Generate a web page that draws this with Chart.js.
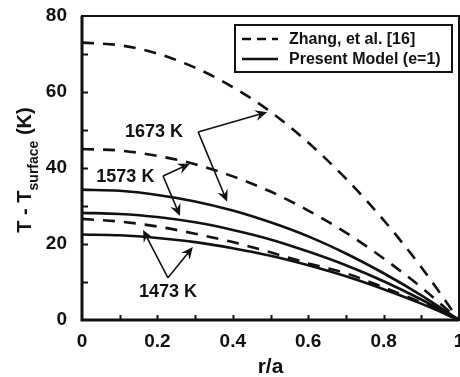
<!DOCTYPE html>
<html>
<head>
<meta charset="utf-8">
<script src="https://cdn.jsdelivr.net/npm/chart.js@4.4.0/dist/chart.umd.min.js"></script>
<style>
  html, body { margin: 0; padding: 0; background: #fff; }
  #wrap { width: 460px; height: 377px; }
</style>
</head>
<body>
<div id="wrap"><canvas id="chart"></canvas></div>
<script>
// r/a positions
const rValues = [0, 0.1, 0.2, 0.3, 0.4, 0.5, 0.6, 0.7, 0.8, 0.9, 1.0];

// Zhang, et al. [16] (dashed)
const zhang1673 = [73.0, 72.3, 70.1, 66.4, 61.3, 54.8, 46.7, 37.2, 26.3, 13.9, 0];
const zhang1573 = [45.0, 44.6, 43.2, 41.0, 37.8, 33.8, 28.8, 23.0, 16.2, 8.6, 0];
const zhang1473 = [26.6, 25.9, 24.6, 22.7, 20.5, 17.8, 14.9, 12.3, 8.6, 4.6, 0];

// Present Model (e=1) (solid)
const model1673 = [34.3, 34.0, 32.9, 31.2, 28.8, 25.7, 22.0, 17.5, 12.3, 6.5, 0];
const model1573 = [28.2, 27.9, 27.1, 25.7, 23.7, 21.2, 18.0, 14.4, 10.2, 5.4, 0];
const model1473 = [22.5, 22.3, 21.6, 20.5, 18.9, 16.9, 14.4, 11.5, 8.1, 4.3, 0];

const xTicks = [0, 0.2, 0.4, 0.6, 0.8, 1];
const yTicks = [0, 20, 40, 60, 80];
const legendLabels = ['Zhang, et al. [16]', 'Present Model (e=1)'];

// annotation labels, with arrows (from -> to) in data units
const annotations = [
    { text: '1673 K', at: [0.191, 49.5], from: [0.308, 49.5], to: [[0.491, 54.7], [0.385, 31.1]] },
    { text: '1573 K', at: [0.115, 37.6], from: [0.215, 37.9], to: [[0.286, 41.1], [0.26, 27.4]] },
    { text: '1473 K', at: [0.228, 7.4], from: [0.228, 11.1], to: [[0.162, 23.7], [0.294, 19.2]] }
];

const FONT = '"Liberation Sans", Arial, Helvetica, sans-serif';
const DASH = [12, 9];
const LEGEND_DASH = [9, 6];

const toPoints = ys => rValues.map((r, i) => ({ x: r, y: ys[i] }));

const makeSet = (label, ys, dashed) => ({
    label: label,
    data: toPoints(ys),
    borderColor: '#111',
    borderWidth: 2.6,
    borderDash: dashed ? DASH : [],
    pointRadius: 0,
    fill: false,
    cubicInterpolationMode: 'monotone'
});

function drawArrow(ctx, x1, y1, x2, y2) {
    const ang = Math.atan2(y2 - y1, x2 - x1);
    const len = 12, wid = 5.5;
    ctx.beginPath();
    ctx.moveTo(x1, y1);
    ctx.lineTo(x2 - Math.cos(ang) * 6, y2 - Math.sin(ang) * 6);
    ctx.stroke();
    ctx.save();
    ctx.translate(x2, y2);
    ctx.rotate(ang);
    ctx.beginPath();
    ctx.moveTo(0, 0);
    ctx.lineTo(-len, -wid);
    ctx.lineTo(-len * 0.65, 0);
    ctx.lineTo(-len, wid);
    ctx.closePath();
    ctx.fill();
    ctx.restore();
}

const decorations = {
    id: 'decorations',
    afterDatasetsDraw(chart) {
        const ctx = chart.ctx;
        const xs = chart.scales.x, ys = chart.scales.y;
        const area = chart.chartArea;
        ctx.save();
        ctx.fillStyle = '#111';
        ctx.strokeStyle = '#111';

        // minor/major ticks, pointing inward
        ctx.lineWidth = 2;
        for (let v = 10; v < 80; v += 10) {
            const y = Math.round(ys.getPixelForValue(v)) + 0.5;
            ctx.beginPath();
            ctx.moveTo(area.left, y);
            ctx.lineTo(area.left + 6, y);
            ctx.stroke();
        }
        for (let k = 1; k < 10; k++) {
            const x = Math.round(xs.getPixelForValue(k / 10)) + 0.5;
            ctx.beginPath();
            ctx.moveTo(x, area.bottom);
            ctx.lineTo(x, area.bottom - 5);
            ctx.stroke();
        }

        // frame
        ctx.lineWidth = 2;
        ctx.strokeRect(area.left, area.top, area.right - area.left, area.bottom - area.top);
        ctx.lineWidth = 3;
        ctx.beginPath();
        ctx.moveTo(area.left, area.top);
        ctx.lineTo(area.left, area.bottom);
        ctx.lineTo(area.right, area.bottom);
        ctx.stroke();

        // annotations
        ctx.font = 'bold 18px ' + FONT;
        ctx.textAlign = 'center';
        ctx.textBaseline = 'middle';
        ctx.lineWidth = 1.6;
        annotations.forEach(a => {
            ctx.fillText(a.text, xs.getPixelForValue(a.at[0]), ys.getPixelForValue(a.at[1]));
            const fx = xs.getPixelForValue(a.from[0]), fy = ys.getPixelForValue(a.from[1]);
            a.to.forEach(t => drawArrow(ctx, fx, fy, xs.getPixelForValue(t[0]), ys.getPixelForValue(t[1])));
        });

        // legend box
        const lx = 235, ly = 25, lw = 217, lh = 47;
        ctx.fillStyle = '#fff';
        ctx.fillRect(lx, ly, lw, lh);
        ctx.lineWidth = 2;
        ctx.strokeRect(lx, ly, lw, lh);
        ctx.fillStyle = '#111';
        ctx.font = 'bold 16px ' + FONT;
        ctx.textAlign = 'left';
        ctx.textBaseline = 'middle';
        [[LEGEND_DASH, 39], [[], 59]].forEach((row, i) => {
            ctx.lineWidth = 2.5;
            ctx.setLineDash(row[0]);
            ctx.beginPath();
            ctx.moveTo(242, row[1]);
            ctx.lineTo(278, row[1]);
            ctx.stroke();
            ctx.setLineDash([]);
            ctx.fillText(legendLabels[i], 289, row[1] + 1);
        });

        // axis titles
        ctx.font = 'bold 21px ' + FONT;
        ctx.textAlign = 'center';
        ctx.fillText('r/a', (area.left + area.right) / 2, 367);

        ctx.translate(0, 170);
        ctx.rotate(-Math.PI / 2);
        ctx.textAlign = 'left';
        ctx.textBaseline = 'alphabetic';
        const bigFont = 'bold 20px ' + FONT, subFont = 'bold 14px ' + FONT;
        const parts = [['T - T', bigFont, 31], ['surface', subFont, 38], [' (K)', bigFont, 31]];
        let total = 0;
        parts.forEach(p => { ctx.font = p[1]; total += ctx.measureText(p[0]).width; });
        let px = -total / 2;
        parts.forEach(p => {
            ctx.font = p[1];
            ctx.fillText(p[0], px, p[2]);
            px += ctx.measureText(p[0]).width;
        });
        ctx.restore();
    }
};

new Chart(document.getElementById('chart'), {
    type: 'line',
    data: {
        datasets: [
            makeSet('Zhang 1673 K', zhang1673, true),
            makeSet('Zhang 1573 K', zhang1573, true),
            makeSet('Zhang 1473 K', zhang1473, true),
            makeSet('Model 1673 K', model1673, false),
            makeSet('Model 1573 K', model1573, false),
            makeSet('Model 1473 K', model1473, false)
        ]
    },
    options: {
        responsive: true,
        maintainAspectRatio: false,
        animation: false,
        layout: { padding: { top: 16, right: 1, left: 0, bottom: 0 } },
        plugins: {
            legend: { display: false },
            tooltip: { enabled: false }
        },
        scales: {
            x: {
                type: 'linear',
                min: 0,
                max: 1,
                afterFit: s => { s.height = 57; s.paddingLeft = 0; s.paddingRight = 0; },
                afterBuildTicks: s => { s.ticks = xTicks.map(v => ({ value: v })); },
                grid: { display: false },
                border: { display: false },
                ticks: {
                    color: '#111',
                    padding: 2,
                    maxRotation: 0,
                    font: { family: FONT, size: 19, weight: 'bold' },
                    callback: v => String(v)
                }
            },
            y: {
                min: 0,
                max: 80,
                afterFit: s => { s.width = 82; s.paddingTop = 0; s.paddingBottom = 0; },
                afterBuildTicks: s => { s.ticks = yTicks.map(v => ({ value: v })); },
                grid: { display: false },
                border: { display: false },
                ticks: {
                    color: '#111',
                    padding: 7,
                    font: { family: FONT, size: 19, weight: 'bold' }
                }
            }
        }
    },
    plugins: [decorations]
});
</script>
</body>
</html>
